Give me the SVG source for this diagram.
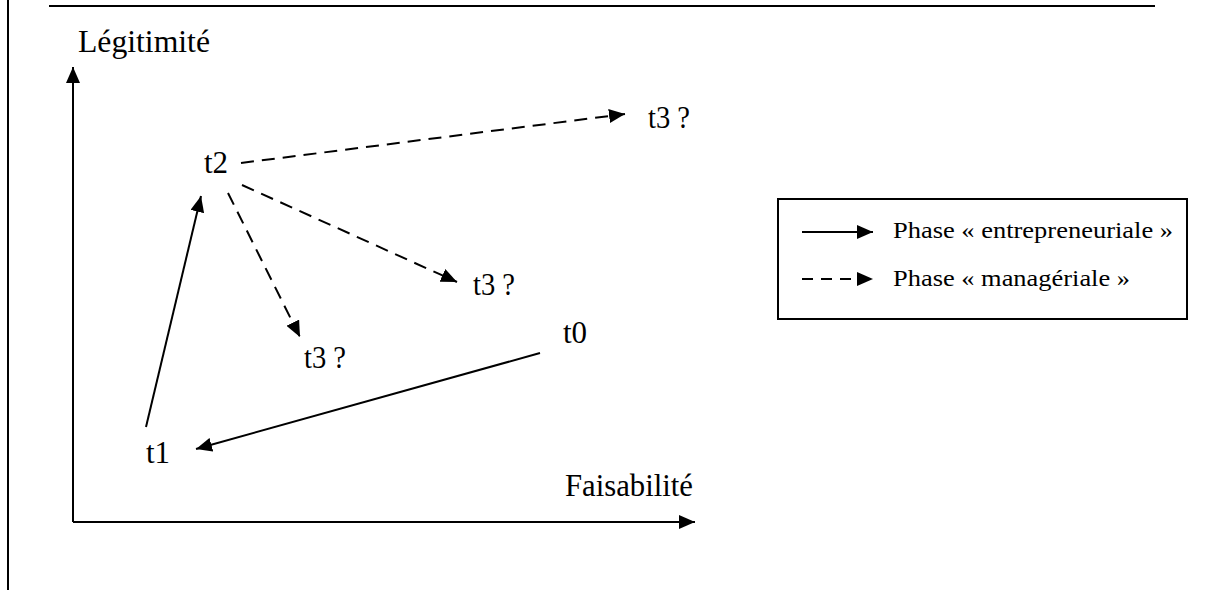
<svg xmlns="http://www.w3.org/2000/svg" width="1222" height="590" viewBox="0 0 1222 590">
<style>
.lbl{font-family:"Liberation Serif","Times New Roman",serif;font-size:31px;fill:#000}
.leg{font-family:"Liberation Serif","Times New Roman",serif;font-size:24px;fill:#000}
.ln{stroke:#000;stroke-width:2;fill:none}
.dash{stroke-dasharray:13 8}
</style>
<defs>
<marker id="ah" markerUnits="userSpaceOnUse" markerWidth="16" markerHeight="14" refX="16" refY="7" orient="auto">
<path d="M0,0 L16,7 L0,14 z" fill="#000"/>
</marker>
</defs>
<rect width="1222" height="590" fill="#fff"/>
<g id="frame">
<line class="ln" x1="8" y1="0" x2="8" y2="590"/>
<line class="ln" x1="49" y1="6" x2="1155" y2="6"/>
</g>
<g id="axes">
<line class="ln" x1="73" y1="522" x2="73" y2="67" marker-end="url(#ah)"/>
<line class="ln" x1="73" y1="522" x2="695" y2="522" marker-end="url(#ah)"/>
<text class="lbl" x="78" y="52" textLength="132" lengthAdjust="spacingAndGlyphs">Légitimité</text>
<text class="lbl" x="565" y="496" textLength="128" lengthAdjust="spacingAndGlyphs">Faisabilité</text>
</g>
<g id="connectors">
<line class="ln" x1="146" y1="427" x2="201" y2="196" marker-end="url(#ah)"/>
<line class="ln" x1="540" y1="353" x2="196" y2="449" marker-end="url(#ah)"/>
<line class="ln dash" x1="241" y1="163" x2="625" y2="114" marker-end="url(#ah)"/>
<line class="ln dash" x1="242" y1="185" x2="457" y2="282" marker-end="url(#ah)"/>
<line class="ln dash" x1="228" y1="193" x2="300" y2="337" marker-end="url(#ah)"/>
</g>
<g id="t0"><text class="lbl" x="563" y="343">t0</text></g>
<g id="t1"><text class="lbl" x="146" y="463">t1</text></g>
<g id="t2"><text class="lbl" x="204" y="173">t2</text></g>
<g id="t3a"><text class="lbl" x="648" y="128" textLength="42" lengthAdjust="spacingAndGlyphs">t3 ?</text></g>
<g id="t3b"><text class="lbl" x="473" y="295" textLength="42" lengthAdjust="spacingAndGlyphs">t3 ?</text></g>
<g id="t3c"><text class="lbl" x="304" y="368" textLength="42" lengthAdjust="spacingAndGlyphs">t3 ?</text></g>
<g id="legend">
<rect class="ln" x="778" y="199" width="409" height="120"/>
<line class="ln" x1="802" y1="232" x2="873" y2="232" marker-end="url(#ah)"/>
<line class="ln" x1="802" y1="279" x2="873" y2="279" stroke-dasharray="11 8" marker-end="url(#ah)"/>
<text class="leg" x="893" y="238" textLength="280" lengthAdjust="spacingAndGlyphs">Phase « entrepreneuriale »</text>
<text class="leg" x="893" y="286" textLength="237" lengthAdjust="spacingAndGlyphs">Phase « managériale »</text>
</g>
</svg>
